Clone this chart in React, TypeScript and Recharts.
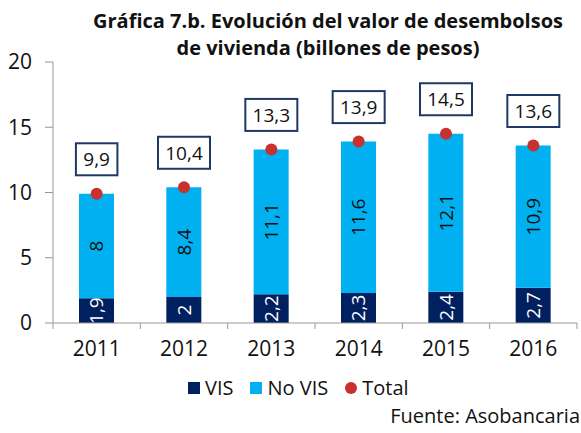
import { ComposedChart, Bar, Scatter, XAxis, YAxis, LabelList } from 'recharts'

const years = ['2011', '2012', '2013', '2014', '2015', '2016']
const vis = [1.9, 2, 2.2, 2.3, 2.4, 2.7]
const noVis = [8, 8.4, 11.1, 11.6, 12.1, 10.9]
const total = [9.9, 10.4, 13.3, 13.9, 14.5, 13.6]
const yTicks = [0, 5, 10, 15, 20]

const data = years.map((y, i) => ({ year: y, vis: vis[i], noVis: noVis[i], total: total[i] }))

const NAVY = '#002060'
const SKY = '#00B0F0'
const RED = '#C8312F'
const FONT = '"Open Sans", sans-serif'

const fmt = (v: number) => String(v).replace('.', ',')

const BarLabel = (color: string) => (props: any) => {
  const { x, y, width, height, value } = props
  const cx = x + width / 2
  const cy = y + height / 2
  return (
    <text x={cx} y={cy} fill={color} fontSize={19} fontFamily={FONT}
      textAnchor="middle" dominantBaseline="central" transform={`rotate(-90 ${cx} ${cy})`}>
      {fmt(value)}
    </text>
  )
}

const TotalLabel = (props: any) => {
  const { x, y, width, value } = props
  const cx = x + (width || 0) / 2
  const txt = fmt(value)
  const w = txt.length * 10.5 + 10
  const cy = y - 30
  return (
    <g>
      <rect x={cx - w / 2} y={cy - 16} width={w} height={32} fill="#fff" stroke="#1F3864" strokeWidth={2} />
      <text x={cx} y={cy} fontSize={19} fontFamily={FONT} fill="#111"
        textAnchor="middle" dominantBaseline="central">{txt}</text>
    </g>
  )
}

const YearTick = (props: any) => {
  const { x, y, payload, index } = props
  const off = payload?.offset ?? 43.7
  return (
    <g>
      <line x1={x - off} y1={y - 8} x2={x - off} y2={y - 2} stroke="#999" />
      {index === years.length - 1 && <line x1={x + off} y1={y - 8} x2={x + off} y2={y - 2} stroke="#999" />}
      <text x={x} y={y + 25} textAnchor="middle" fontSize={21} fontFamily={FONT} fill="#111">{payload.value}</text>
    </g>
  )
}

const Swatch = ({ color, round }: { color: string; round?: boolean }) => (
  <span style={{ width: 12, height: 12, background: color, borderRadius: round ? 6 : 0, display: 'inline-block', marginRight: 5 }} />
)

export default function App() {
  return (
    <div style={{ position: 'absolute', left: 0, top: 0, width: 581, height: 433, background: '#fff', fontFamily: FONT, color: '#111' }}>
      <div style={{ position: 'absolute', left: 60, width: 536, top: 7, textAlign: 'center', fontWeight: 700, fontSize: 20, lineHeight: '27px' }}>
        Gráfica 7.b. Evolución del valor de desembolsos<br />de vivienda (billones de pesos)
      </div>
      <ComposedChart width={581} height={433} data={data} margin={{ top: 62, right: 4, bottom: 80, left: 0 }}>
        <XAxis dataKey="year" tick={<YearTick />} tickLine={false} axisLine={{ stroke: '#999' }} height={30} interval={0} />
        <YAxis domain={[0, 20]} ticks={yTicks} width={53} tickSize={8} tickMargin={13}
          tick={{ fill: '#111', fontSize: 21, fontFamily: FONT }} axisLine={{ stroke: '#999' }} tickLine={{ stroke: '#999' }} />
        <Bar dataKey="vis" stackId="a" fill={NAVY} barSize={35} isAnimationActive={false}>
          <LabelList dataKey="vis" content={BarLabel('#fff')} />
        </Bar>
        <Bar dataKey="noVis" stackId="a" fill={SKY} barSize={35} isAnimationActive={false}>
          <LabelList dataKey="noVis" content={BarLabel('#111')} />
        </Bar>
        <Scatter dataKey="total" fill={RED} isAnimationActive={false}
          shape={(p: any) => <circle cx={p.cx} cy={p.cy} r={6} fill={RED} />}>
          <LabelList dataKey="total" content={TotalLabel} />
        </Scatter>
      </ComposedChart>
      <div style={{ position: 'absolute', left: 188, top: 375, display: 'flex', alignItems: 'center', fontSize: 20, lineHeight: '26px' }}>
        <Swatch color={NAVY} /><span style={{ marginRight: 17 }}>VIS</span>
        <Swatch color={SKY} /><span style={{ marginRight: 17 }}>No VIS</span>
        <Swatch color={RED} round /><span>Total</span>
      </div>
      <div style={{ position: 'absolute', right: 1, top: 403, fontSize: 20, lineHeight: '26px' }}>Fuente: Asobancaria</div>
    </div>
  )
}
